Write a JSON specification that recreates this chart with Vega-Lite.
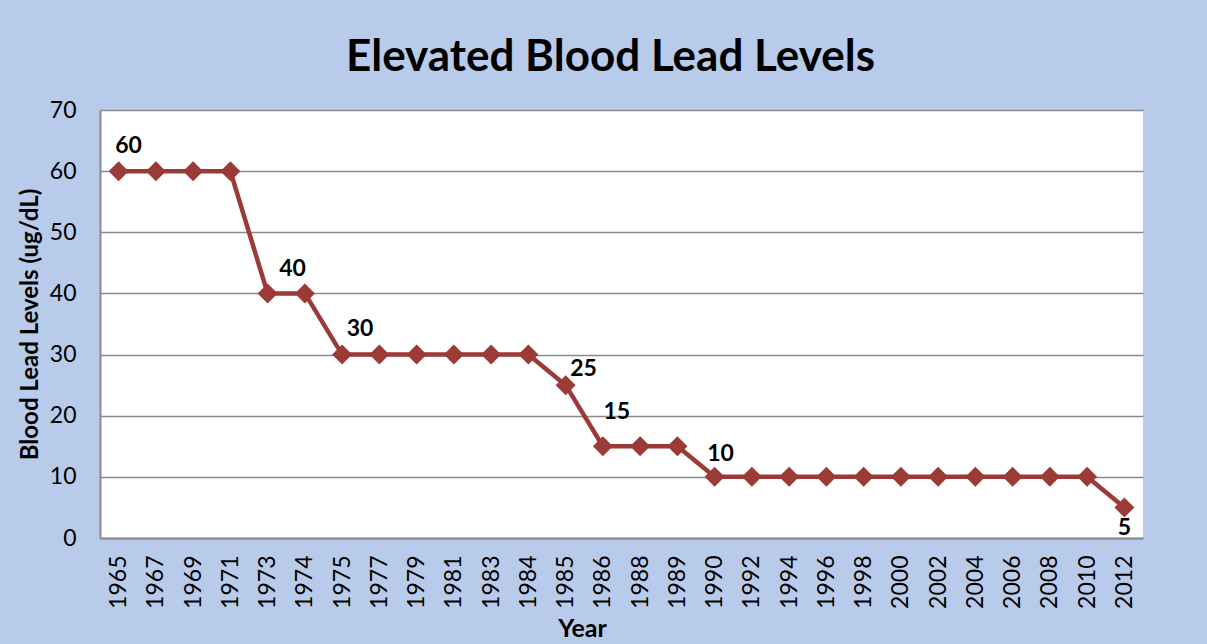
{
  "$schema": "https://vega.github.io/schema/vega-lite/v6.json",
  "autosize": "none",
  "width": 1043,
  "height": 428,
  "padding": {"left": 100, "top": 110, "right": 64, "bottom": 106},
  "background": "#B9CBEA",
  "title": {
    "text": "Elevated Blood Lead Levels",
    "font": "Lato",
    "fontSize": 44,
    "fontWeight": "bold",
    "color": "#000000",
    "anchor": "middle",
    "offset": 19,
    "dx": -11
  },
  "config": {
    "view": {"fill": "#FFFFFF", "stroke": null},
    "axis": {"labelFont": "Lato", "titleFont": "Lato", "labelColor": "#000000", "titleColor": "#000000"}
  },
  "data": {
    "values": [
      {"year": "1965", "value": 60, "label": 60},
      {"year": "1967", "value": 60, "label": null},
      {"year": "1969", "value": 60, "label": null},
      {"year": "1971", "value": 60, "label": null},
      {"year": "1973", "value": 40, "label": 40},
      {"year": "1974", "value": 40, "label": null},
      {"year": "1975", "value": 30, "label": 30},
      {"year": "1977", "value": 30, "label": null},
      {"year": "1979", "value": 30, "label": null},
      {"year": "1981", "value": 30, "label": null},
      {"year": "1983", "value": 30, "label": null},
      {"year": "1984", "value": 30, "label": null},
      {"year": "1985", "value": 25, "label": 25},
      {"year": "1986", "value": 15, "label": 15},
      {"year": "1988", "value": 15, "label": null},
      {"year": "1989", "value": 15, "label": null},
      {"year": "1990", "value": 10, "label": 10},
      {"year": "1992", "value": 10, "label": null},
      {"year": "1994", "value": 10, "label": null},
      {"year": "1996", "value": 10, "label": null},
      {"year": "1998", "value": 10, "label": null},
      {"year": "2000", "value": 10, "label": null},
      {"year": "2002", "value": 10, "label": null},
      {"year": "2004", "value": 10, "label": null},
      {"year": "2006", "value": 10, "label": null},
      {"year": "2008", "value": 10, "label": null},
      {"year": "2010", "value": 10, "label": null},
      {"year": "2012", "value": 5, "label": 5}
    ]
  },
  "encoding": {
    "x": {
      "field": "year",
      "type": "ordinal",
      "sort": null,
      "scale": {"type": "point", "padding": 0.5},
      "axis": {
        "title": "Year",
        "titleFontSize": 25,
        "titleFontWeight": "bold",
        "titlePadding": 8,
        "titleX": 482,
        "labelAngle": -90,
        "labelFontSize": 23,
        "labelPadding": 17,
        "ticks": false,
        "grid": false,
        "domainColor": "#8C8C8C",
        "domainWidth": 2
      }
    },
    "y": {
      "field": "value",
      "type": "quantitative",
      "scale": {"domain": [0, 70], "nice": false},
      "axis": {
        "title": "Blood Lead Levels (ug/dL)",
        "titleFontSize": 24,
        "titleFontWeight": "bold",
        "titlePadding": 7,
        "values": [0, 10, 20, 30, 40, 50, 60, 70],
        "labelFontSize": 23,
        "labelPadding": 24,
        "ticks": false,
        "grid": true,
        "gridColor": "#8A8A8A",
        "gridWidth": 1.6,
        "domainColor": "#8A8A8A",
        "domainWidth": 2
      }
    }
  },
  "layer": [
    {"mark": {"type": "line", "color": "#9B3A36", "strokeWidth": 4.5}},
    {"mark": {"type": "point", "shape": "diamond", "filled": true, "size": 400, "color": "#9B3A36", "opacity": 1}},
    {"transform": [{"filter": "datum.year == '1965'"}], "mark": {"type": "text", "font": "Lato", "fontSize": 23, "fontWeight": "bold", "color": "#000000", "dx": 10, "dy": -25}, "encoding": {"text": {"field": "label"}}},
    {"transform": [{"filter": "datum.year == '1973'"}], "mark": {"type": "text", "font": "Lato", "fontSize": 23, "fontWeight": "bold", "color": "#000000", "dx": 25, "dy": -24}, "encoding": {"text": {"field": "label"}}},
    {"transform": [{"filter": "datum.year == '1975'"}], "mark": {"type": "text", "font": "Lato", "fontSize": 23, "fontWeight": "bold", "color": "#000000", "dx": 18, "dy": -26}, "encoding": {"text": {"field": "label"}}},
    {"transform": [{"filter": "datum.year == '1985'"}], "mark": {"type": "text", "font": "Lato", "fontSize": 23, "fontWeight": "bold", "color": "#000000", "dx": 18, "dy": -16}, "encoding": {"text": {"field": "label"}}},
    {"transform": [{"filter": "datum.year == '1986'"}], "mark": {"type": "text", "font": "Lato", "fontSize": 23, "fontWeight": "bold", "color": "#000000", "dx": 14, "dy": -34}, "encoding": {"text": {"field": "label"}}},
    {"transform": [{"filter": "datum.year == '1990'"}], "mark": {"type": "text", "font": "Lato", "fontSize": 23, "fontWeight": "bold", "color": "#000000", "dx": 6, "dy": -23}, "encoding": {"text": {"field": "label"}}},
    {"transform": [{"filter": "datum.year == '2012'"}], "mark": {"type": "text", "font": "Lato", "fontSize": 23, "fontWeight": "bold", "color": "#000000", "dx": 0, "dy": 21}, "encoding": {"text": {"field": "label"}}}
  ]
}
